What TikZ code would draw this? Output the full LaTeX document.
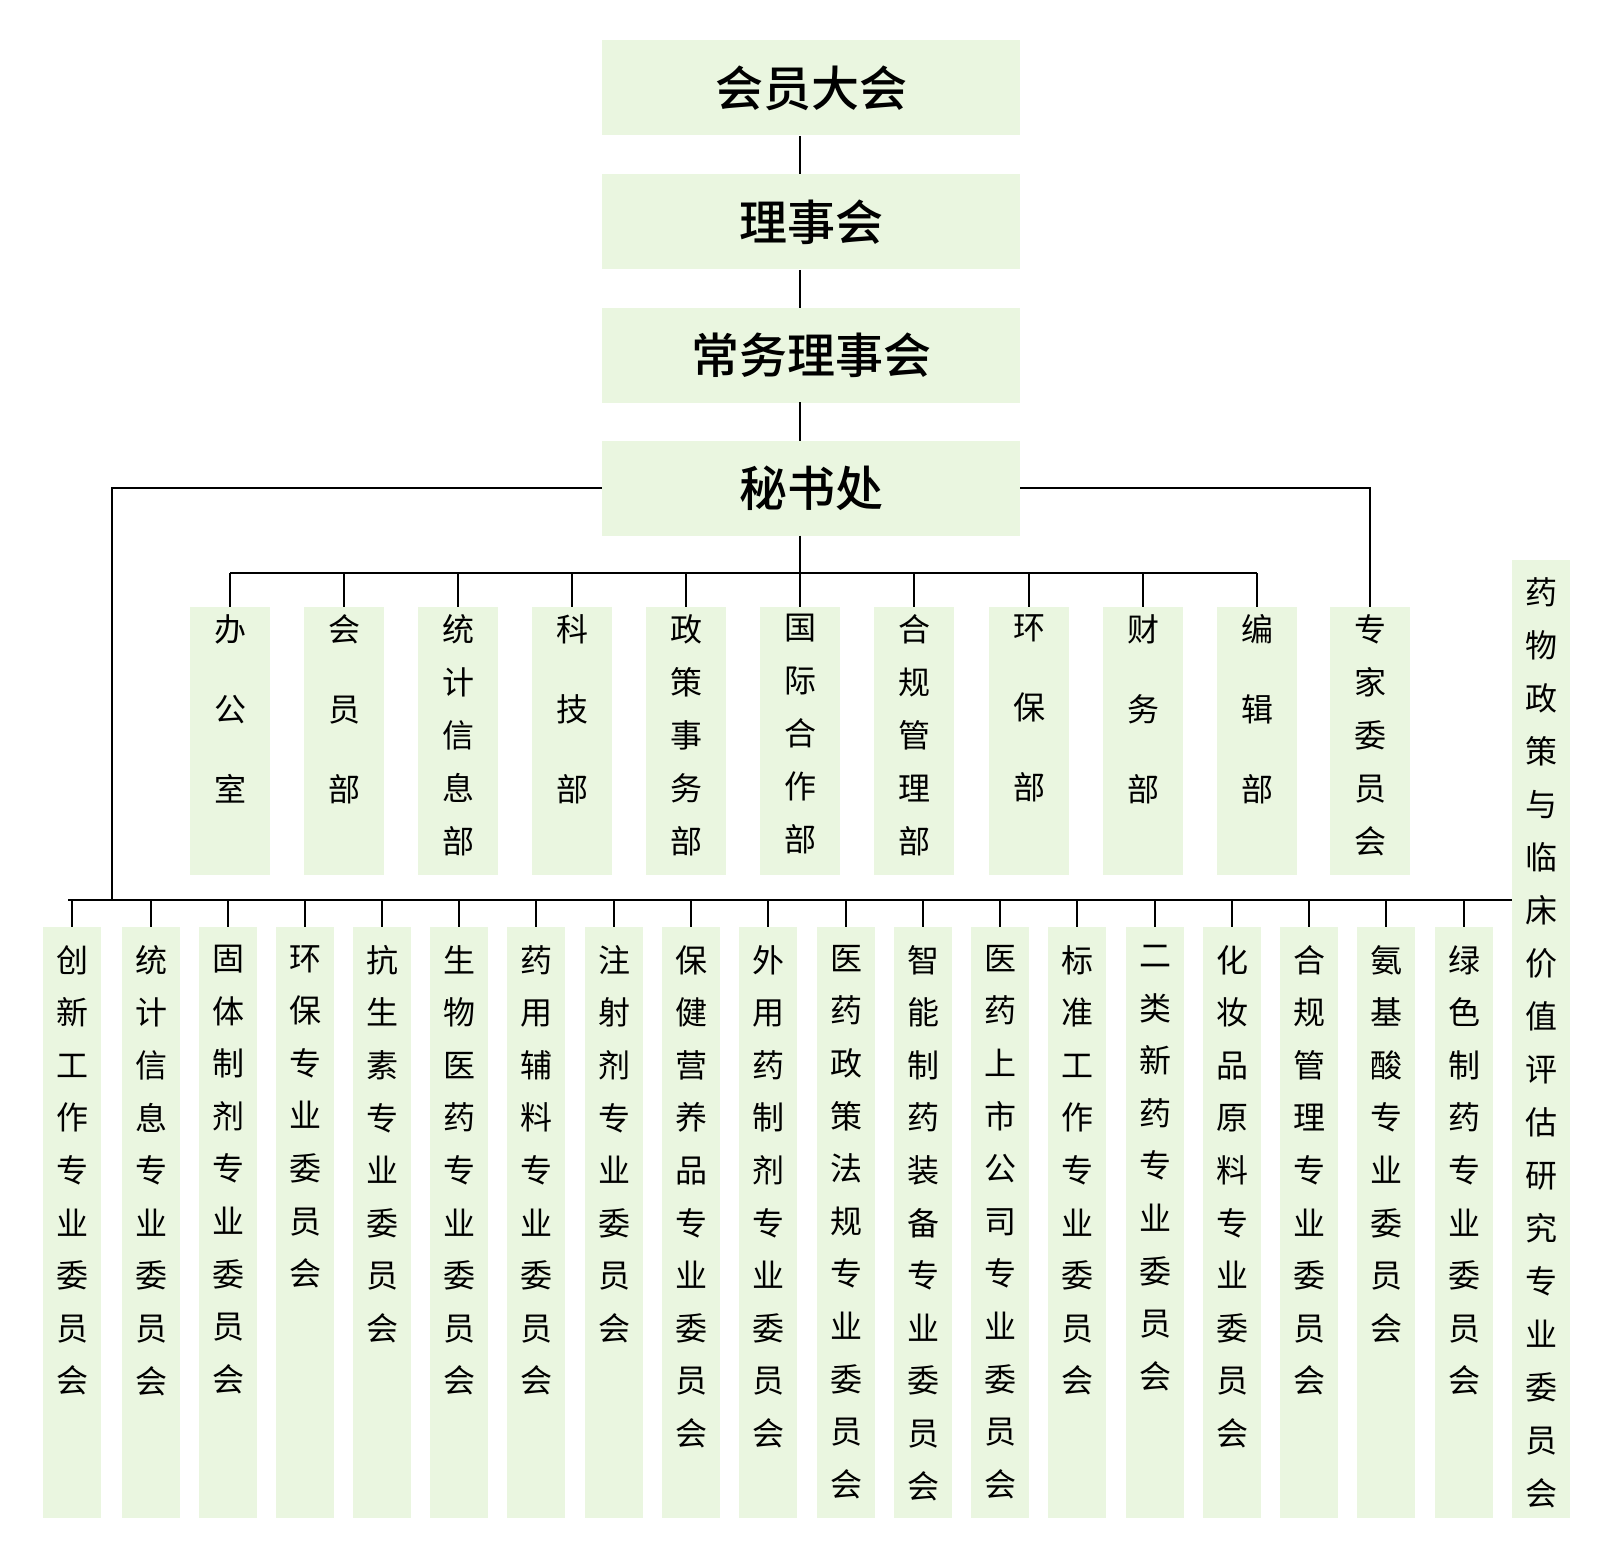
\documentclass[tikz,border=0pt]{standalone}
\usepackage{fontspec}
\setmainfont{Noto Sans CJK SC}
\newfontfamily\cjkb{Noto Sans CJK SC Medium}
\begin{document}
\begin{tikzpicture}[x=1pt,y=-1pt,
  boxbg/.style={fill=green!40!olive!12!white,draw=none,inner sep=0pt},
  topbox/.style={boxbg,minimum width=418pt,minimum height=95pt,font=\fontsize{48}{50}\selectfont\cjkb},
  vtxt/.style={align=center,inner sep=0pt,anchor=north},
  ln/.style={line width=1.6pt}]
\useasboundingbox (0,0) rectangle (1600,1554);
\node[topbox] (a) at (811,88) {会员大会};
\node[topbox] (b) at (811,222) {理事会};
\node[topbox] (c) at (811,355) {常务理事会};
\node[topbox] (d) at (811,488) {秘书处};
\draw[ln] (800,136) -- (800,174) (800,270) -- (800,308) (800,402) -- (800,441);
% departments
\foreach \x/\t/\s/\n in {230/办\\公\\室/80/d1,344/会\\员\\部/80/d2,458/统\\计\\信\\息\\部/53/d3,572/科\\技\\部/80/d4,686/政\\策\\事\\务\\部/53/d5,800/国\\际\\合\\作\\部/53/d6,914/合\\规\\管\\理\\部/53/d7,1029/环\\保\\部/80/d8,1143/财\\务\\部/80/d9,1257/编\\辑\\部/80/d10,1370/专\\家\\委\\员\\会/53/d11}{
  \node[boxbg,minimum width=80pt,minimum height=268pt,anchor=north] (\n) at (\x,607) {};
  \node[vtxt,font=\fontsize{32}{\s}\selectfont] (\n t) at (\x,614) {\t};
}
\coordinate (busL) at (230,573);
\coordinate (busR) at (1257,573);
\draw[ln] (d.south) ++(-11,0) coordinate (ds) -- (800,573);
\draw[ln] (busL) -- (busR);
\foreach \x/\n in {230/d1,344/d2,458/d3,572/d4,686/d5,800/d6,914/d7,1029/d8,1143/d9,1257/d10}
  \draw[ln] (\x,573) -- (\n.north);
\draw[ln] (d.east) -| (d11.north);
% committees
\foreach \x/\t/\n in {72/创\\新\\工\\作\\专\\业\\委\\员\\会/c1,151/统\\计\\信\\息\\专\\业\\委\\员\\会/c2,228/固\\体\\制\\剂\\专\\业\\委\\员\\会/c3,305/环\\保\\专\\业\\委\\员\\会/c4,382/抗\\生\\素\\专\\业\\委\\员\\会/c5,459/生\\物\\医\\药\\专\\业\\委\\员\\会/c6,536/药\\用\\辅\\料\\专\\业\\委\\员\\会/c7,614/注\\射\\剂\\专\\业\\委\\员\\会/c8,691/保\\健\\营\\养\\品\\专\\业\\委\\员\\会/c9,768/外\\用\\药\\制\\剂\\专\\业\\委\\员\\会/c10,846/医\\药\\政\\策\\法\\规\\专\\业\\委\\员\\会/c11,923/智\\能\\制\\药\\装\\备\\专\\业\\委\\员\\会/c12,1000/医\\药\\上\\市\\公\\司\\专\\业\\委\\员\\会/c13,1077/标\\准\\工\\作\\专\\业\\委\\员\\会/c14,1155/二\\类\\新\\药\\专\\业\\委\\员\\会/c15,1232/化\\妆\\品\\原\\料\\专\\业\\委\\员\\会/c16,1309/合\\规\\管\\理\\专\\业\\委\\员\\会/c17,1386/氨\\基\\酸\\专\\业\\委\\员\\会/c18,1464/绿\\色\\制\\药\\专\\业\\委\\员\\会/c19}{
  \node[boxbg,minimum width=58pt,minimum height=591pt,anchor=north] (\n) at (\x,927) {};
  \node[vtxt,font=\fontsize{32}{52.6}\selectfont] (\n t) at (\x,945) {\t};
  \draw[ln] (\x,900) -- (\n.north);
}
\node[boxbg,minimum width=58pt,minimum height=958pt,anchor=north] (c20) at (1541,560) {};
\node[vtxt,font=\fontsize{32}{53}\selectfont] (c20t) at (1541,577) {药\\物\\政\\策\\与\\临\\床\\价\\值\\评\\估\\研\\究\\专\\业\\委\\员\\会};
\draw[ln] (d.west) -| (112,900);
\draw[ln] (68,900) -- (c20.west |- 0,900);
\end{tikzpicture}
\end{document}
